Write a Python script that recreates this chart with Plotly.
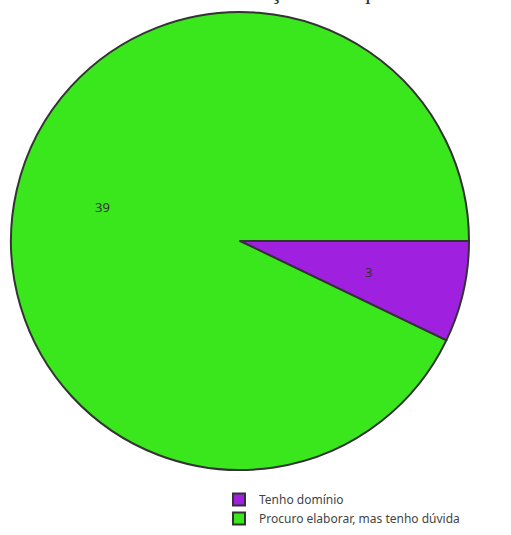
import math
import plotly.graph_objects as go

labels = ["Tenho domínio", "Procuro elaborar, mas tenho dúvida"]
values = [3, 39]
colors = ["#a020e0", "#3ae61c"]
title_text = "Processo de elaboração de sequências didáticas"

W, H = 511, 535
cx, cy, r = 240, 241, 229

fig = go.Figure(go.Pie(
    labels=labels,
    values=values,
    sort=False,
    direction="clockwise",
    rotation=90,
    textinfo="none",
    marker=dict(colors=colors, line=dict(color="#333333", width=2)),
    domain=dict(x=[(cx - r) / W, (cx + r) / W], y=[1 - (cy + r) / H, 1 - (cy - r) / H]),
    hoverinfo="label+value",
))

# value labels placed at each slice's mid-angle
annotations = []
total = sum(values)
cum = 0
for v in values:
    mid = math.radians(-(cum + v / 2) / total * 360)  # start at 3 o'clock, clockwise
    cum += v
    f = 0.6 if v / total < 0.5 else 0.66
    px = cx + f * r * math.cos(mid)
    py = cy - f * r * math.sin(mid)
    annotations.append(dict(text=str(v), xref="paper", yref="paper", x=px / W, y=1 - py / H,
                            showarrow=False,
                            font=dict(family="Noto Sans", size=13, color="#333333")))

annotations.append(dict(text=title_text, xref="paper", yref="paper",
                        x=78 / W, y=1 - 6 / H, xanchor="left", yanchor="bottom",
                        showarrow=False,
                        font=dict(family="Liberation Serif", size=24, color="#333333")))

fig.update_layout(
    width=W, height=H,
    margin=dict(l=0, r=0, t=0, b=0),
    paper_bgcolor="white",
    plot_bgcolor="white",
    showlegend=True,
    legend=dict(x=219 / W, y=1 - 485 / H, xanchor="left", yanchor="top",
                font=dict(family="Noto Sans", size=12, color="#444444"),
                bgcolor="rgba(0,0,0,0)"),
    annotations=annotations,
)

fig.write_html("out.html", config={"displayModeBar": False},
               post_script="document.body.style.margin='0';")
